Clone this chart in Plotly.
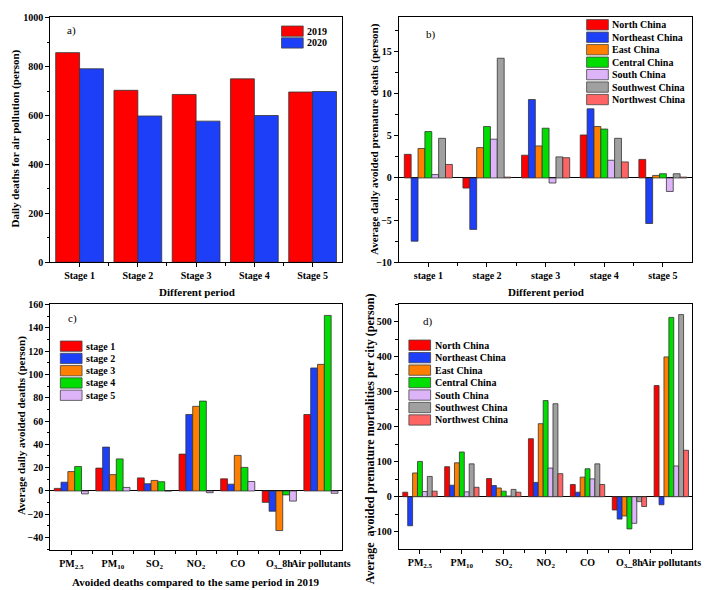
import plotly.graph_objects as go

W, H = 714, 590
FONT = "Liberation Serif"

# ---------------- data ----------------
stages_a = ["Stage 1", "Stage 2", "Stage 3", "Stage 4", "Stage 5"]
years = ["2019", "2020"]
deaths_2019 = [857, 703, 686, 750, 696]
deaths_2020 = [791, 598, 577, 600, 698]

stages_b = ["stage 1", "stage 2", "stage 3", "stage 4", "stage 5"]
regions = ["North China", "Northeast China", "East China", "Central China",
           "South China", "Southwest China", "Northwest China"]
b_north = [2.8, -1.2, 2.7, 5.1, 2.2]
b_northeast = [-7.5, -6.1, 9.3, 8.2, -5.4]
b_east = [3.5, 3.6, 3.8, 6.1, 0.3]
b_central = [5.5, 6.1, 5.9, 5.8, 0.5]
b_south = [0.4, 4.6, -0.6, 2.1, -1.6]
b_southwest = [4.7, 14.2, 2.5, 4.7, 0.5]
b_northwest = [1.6, 0.1, 2.4, 1.9, 0.1]

pollutants = ["PM<sub>2.5</sub>", "PM<sub>10</sub>", "SO<sub>2</sub>", "NO<sub>2</sub>",
              "CO", "O<sub>3</sub>_8h", "Air pollutants"]
stage_names = ["stage 1", "stage 2", "stage 3", "stage 4", "stage 5"]
c_stage1 = [2.2, 19.6, 11.2, 31.6, 10.4, -9.8, 65.6]
c_stage2 = [7.5, 37.6, 6.2, 65.6, 5.8, -17.4, 105.5]
c_stage3 = [16.6, 14.0, 9.0, 72.6, 30.5, -34.0, 108.6]
c_stage4 = [21.0, 27.5, 7.9, 77.1, 20.2, -3.4, 150.6]
c_stage5 = [-2.5, 3.0, 0.0, -1.5, 8.1, -8.7, -2.0]

d_north = [13, 86, 52, 166, 35, -38, 318]
d_northeast = [-83, 33, 32, 41, 13, -64, -23]
d_east = [68, 97, 25, 209, 56, -55, 400]
d_central = [101, 128, 16, 275, 80, -92, 513]
d_south = [15, 14, 2, 82, 51, -76, 88]
d_southwest = [58, 94, 21, 266, 94, -14, 521]
d_northwest = [16, 27, 13, 66, 35, -28, 133]

# ---------------- styles ----------------
year_colors = ["#FF0000", "#1E3FF8"]
region_colors = ["#FF0000", "#1E3FF8", "#FF8000", "#00DD00", "#DDB4F8", "#A0A0A0", "#FF6464"]
stage_colors = ["#FF0000", "#1E3FF8", "#FF8000", "#00DD00", "#DDB4F8"]
OUTLINE = dict(color="#333333", width=0.8)


def X(px):
    return px / W


def Y(py):
    return (H - py) / H


fig = go.Figure()

panels = {
    "a": ("x", "y", (43, 338), (4, 254)),
    "b": ("x2", "y2", (396, 693), (4, 254)),
    "c": ("x3", "y3", (43, 338), (297, 547)),
    "d": ("x4", "y4", (396, 693), (297, 546)),
}


def add_bars(panel, names, series, colors):
    xa, ya = panels[panel][0], panels[panel][1]
    n = len(series[0])
    for name, vals, col in zip(names, series, colors):
        fig.add_trace(go.Bar(x=list(range(n)), y=vals, name=name, xaxis=xa, yaxis=ya,
                             marker=dict(color=col, line=OUTLINE), showlegend=False))


add_bars("a", years, [deaths_2019, deaths_2020], year_colors)
add_bars("b", regions, [b_north, b_northeast, b_east, b_central, b_south, b_southwest, b_northwest], region_colors)
add_bars("c", stage_names, [c_stage1, c_stage2, c_stage3, c_stage4, c_stage5], stage_colors)
add_bars("d", regions, [d_north, d_northeast, d_east, d_central, d_south, d_southwest, d_northwest], region_colors)

tickfont = dict(family=FONT, size=10, color="black", weight="bold")


def xaxis_cfg(px, labels, anchor):
    n = len(labels)
    return dict(domain=[X(px[0]), X(px[1])], anchor=anchor, range=[-0.5, n - 0.5],
                tickmode="array", tickvals=list(range(n)), ticktext=labels, tickangle=0,
                ticks="outside", ticklen=4, tickwidth=1, tickcolor="black",
                showline=True, linecolor="black", linewidth=1.3, mirror=True,
                showgrid=False, zeroline=False, tickfont=tickfont,
                minor=dict(ticks="outside", ticklen=3, tickcolor="black",
                           tickmode="array", tickvals=[i + 0.5 for i in range(n - 1)]))


def yaxis_cfg(py, rng, dtick, anchor, zero):
    return dict(domain=[Y(py[1]), Y(py[0])], anchor=anchor, range=rng,
                dtick=dtick, tick0=0, ticks="outside", ticklen=4, tickwidth=1, tickcolor="black",
                showline=True, linecolor="black", linewidth=1.3, mirror=True,
                showgrid=False, zeroline=zero, zerolinecolor="black", zerolinewidth=1.2,
                tickfont=tickfont,
                minor=dict(ticks="outside", ticklen=2.5, tickcolor="black", dtick=dtick / 2))


fig.update_layout(
    xaxis=xaxis_cfg(panels["a"][2], stages_a, "y"),
    yaxis=yaxis_cfg(panels["a"][3], [0, 1003], 200, "x", False),
    xaxis2=xaxis_cfg(panels["b"][2], stages_b, "y2"),
    yaxis2=yaxis_cfg(panels["b"][3], [-10, 19.1], 5, "x2", True),
    xaxis3=xaxis_cfg(panels["c"][2], pollutants, "y3"),
    yaxis3=yaxis_cfg(panels["c"][3], [-50.5, 160], 20, "x3", True),
    xaxis4=xaxis_cfg(panels["d"][2], pollutants, "y4"),
    yaxis4=yaxis_cfg(panels["d"][3], [-149, 550], 100, "x4", True),
)

annotations = []
shapes = []


def text(x, y, s, size=11, bold=True, angle=0, xanchor="center"):
    annotations.append(dict(x=X(x), y=Y(y), xref="paper", yref="paper", text=s,
                            showarrow=False, textangle=angle, xanchor=xanchor, yanchor="middle",
                            font=dict(family=FONT, size=size, color="black",
                                      weight="bold" if bold else "normal")))


def legend(names, colors, box_x, y0, step, h=10.5):
    for i, (nm, col) in enumerate(zip(names, colors)):
        yc = y0 + i * step
        shapes.append(dict(type="rect", xref="paper", yref="paper",
                           x0=X(box_x), x1=X(box_x + 22), y0=Y(yc + h / 2), y1=Y(yc - h / 2),
                           fillcolor=col, line=dict(color="#444444", width=0.8)))
        text(box_x + 24, yc, nm, size=10, xanchor="left")


legend(years, year_colors, 277, 18.5, 12)
legend(regions, region_colors, 586, 12, 12.7)
legend(stage_names, stage_colors, 53, 339.5, 12.5)
legend(regions, region_colors, 406, 338.5, 12.7)

# panel labels
text(64, 18, "a)", size=11, bold=False)
text(428, 22, "b)", size=11, bold=False)
text(65, 311, "c)", size=11, bold=False)
text(425, 314, "d)", size=11, bold=False)

# axis titles
text(191, 284, "Different period")
text(545, 284, "Different period")
text(190, 580, "Avoided deaths compared to the same period in 2019")
text(8, 128, "Daily deaths for air pollution (person)", angle=-90)
text(371, 128, "Average daily avoided premature deaths (person)", size=11, angle=-90)
text(13, 420, "Average daily avoided deaths (person)", angle=-90)
text(367, 434, "Average  avoided premature mortalities per city (person)", size=12, angle=-90)

fig.update_layout(
    width=W, height=H, margin=dict(l=0, r=0, t=0, b=0),
    paper_bgcolor="white", plot_bgcolor="white",
    barmode="group", bargap=0.18, bargroupgap=0,
    annotations=annotations, shapes=shapes, showlegend=False,
    font=dict(family=FONT, color="black"),
)

fig.write_html("out.html")
